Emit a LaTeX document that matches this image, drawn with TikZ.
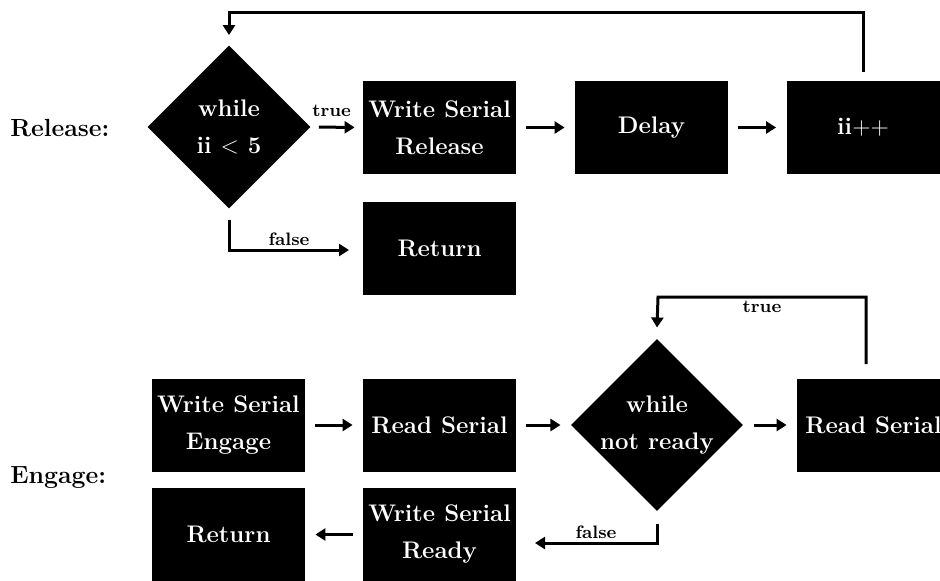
\documentclass[tikz,border=0pt]{standalone}
\usetikzlibrary{shapes.geometric,arrows.meta}
\tikzset{
  box/.style={rectangle, fill=black, draw=none, text=white, inner sep=0pt,
    minimum width=76.5pt, minimum height=46.5pt, align=center,
    font=\fontsize{12}{18.5}\selectfont\bfseries},
  dia/.style={diamond, fill=black, draw=none, text=white, inner sep=0pt, aspect=1,
    minimum width=81.5pt, minimum height=81.5pt, align=center,
    font=\fontsize{12}{18.5}\selectfont\bfseries},
  lbl/.style={font=\fontsize{12.4}{14}\selectfont\bfseries, anchor=west, inner sep=0pt},
  cond/.style={font=\fontsize{9}{11}\selectfont\bfseries, inner sep=1.5pt},
  arr/.style={-{Triangle[length=5pt,width=6pt]}, line width=1.5pt},
  sarr/.style={arr, shorten <=5pt, shorten >=5pt}
}
\begin{document}
\begin{tikzpicture}[x=0.5pt,y=-0.5pt]
\useasboundingbox (0,0) rectangle (940,580);
\clip (0,0) rectangle (940,580);
% Release
\node[lbl] (rel) at (10,128) {Release:};
\node[dia] (d1) at (229,127) {while\\ii $<$ 5};
\node[box] (wsr) at (439.5,127.5) {Write Serial\\Release};
\node[box] (delay) at (651.5,127.5) {Delay};
\node[box] (inc) at (863,127.5) {ii$++$};
\node[box] (ret1) at (439.5,248) {Return};
\coordinate (top1) at (229,12);
\coordinate (f1) at (349,250);
\draw[arr, shorten <=4pt, shorten >=4pt] (d1.east) -- node[cond, above, pos=0.4, yshift=3pt] {true} (wsr.west);
\draw[sarr] (wsr) -- (delay);
\draw[sarr] (delay) -- (inc);
\draw[arr, line cap=rect] ([yshift=5pt]inc.north) |- (top1) -- ([yshift=5pt]d1.north);
\draw[arr] ([yshift=-5.5pt]d1.south) |- node[cond, above, pos=0.75] {false} (f1);
% Engage
\node[lbl] (eng) at (10,478) {Engage:};
\node[box] (wse) at (228.5,425) {Write Serial\\Engage};
\node[box] (rs1) at (439.5,425) {Read Serial};
\node[dia] (d2) at (657,425) {while\\not ready};
\node[box] (rs2) at (873.5,425) {Read Serial};
\node[box] (ret2) at (228.5,534.5) {Return};
\node[box] (wsy) at (439.5,534.5) {Write Serial\\Ready};
\coordinate (top2) at (658,297);
\coordinate (f2) at (535,543);
\draw[sarr] (wse) -- (rs1);
\draw[sarr] (rs1) -- (d2);
\draw[sarr] (d2) -- (rs2);
\draw[sarr] (wsy) -- (ret2);
\draw[arr] ([yshift=7pt]rs2.north -| 866,0) |- node[cond, below, pos=0.75] {true} (top2) -- ([yshift=5.5pt]d2.north);
\draw[arr] ([yshift=-6pt]d2.south) |- node[cond, above, pos=0.75] {false} (f2);
\end{tikzpicture}
\end{document}
